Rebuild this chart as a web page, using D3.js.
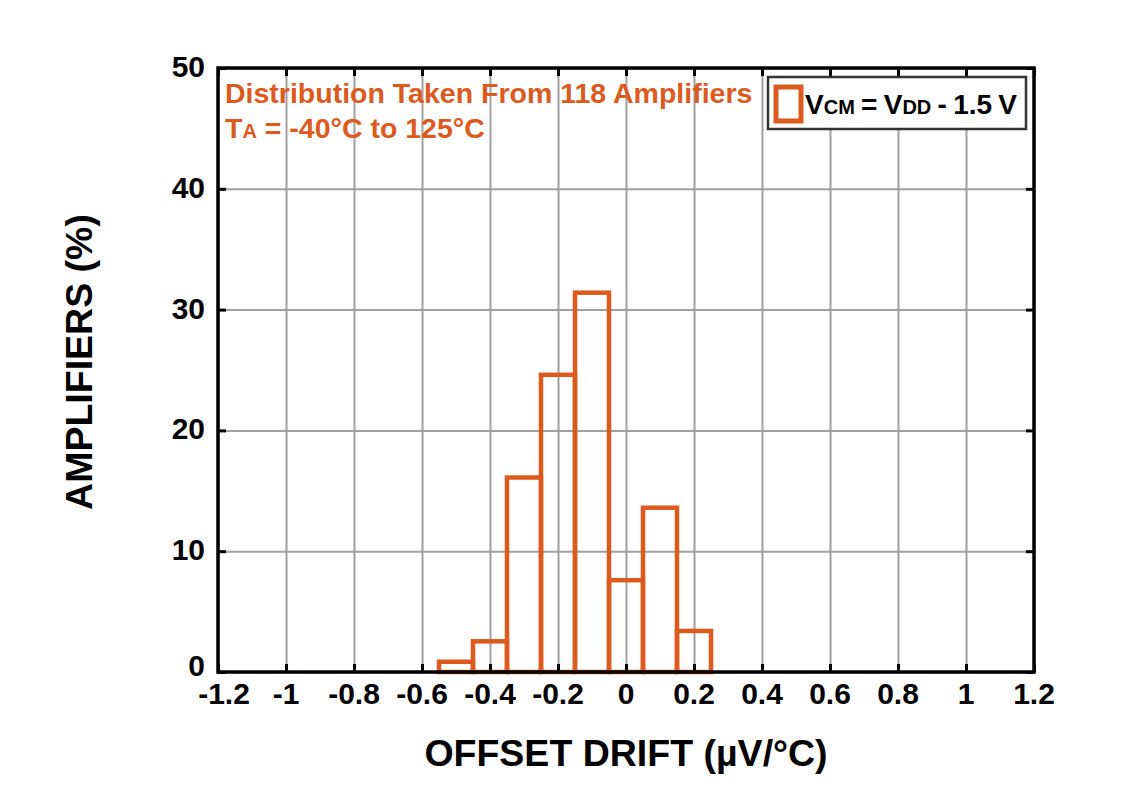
<!DOCTYPE html>
<html>
<head>
<meta charset="utf-8">
<script src="https://cdn.jsdelivr.net/npm/d3@7"></script>
<style>
  body { margin: 0; background: #fff; }
  text { font-family: "Liberation Sans", Arial, sans-serif; font-weight: bold; }
</style>
</head>
<body>
<div id="chart"></div>
<script>
const width = 1123;
const height = 803;
const margin = {top: 68, right: 89, bottom: 131, left: 218};

// histogram bins (centre of each 0.1 µV/°C bin) and share of amplifiers in %
const binCenters = [-0.5, -0.4, -0.3, -0.2, -0.1, 0, 0.1, 0.2];
const percents = [0.85, 2.54, 16.1, 24.6, 31.4, 7.6, 13.6, 3.4];
const binWidth = 0.1;

const xTicks = [-1.2, -1, -0.8, -0.6, -0.4, -0.2, 0, 0.2, 0.4, 0.6, 0.8, 1, 1.2];
const yTicks = [0, 10, 20, 30, 40, 50];

const orange = "#dc5a1e";

const svg = d3.select("#chart").append("svg")
  .attr("width", width)
  .attr("height", height);

const x = d3.scaleLinear()
  .domain([-1.2, 1.2])
  .range([margin.left, width - margin.right]);

const y = d3.scaleLinear()
  .domain([0, 50])
  .range([height - margin.bottom, margin.top]);

// ------- grid --------//
svg.append("g")
  .attr("transform", `translate(0,${height - margin.bottom})`)
  .call(d3.axisBottom(x).tickValues(xTicks).tickSize(-(y(0) - y(50))).tickFormat(""))
  .call(g => g.select(".domain").remove())
  .call(g => g.selectAll("line").attr("stroke", "#a0a0a0").attr("stroke-width", 2));

svg.append("g")
  .attr("transform", `translate(${margin.left},0)`)
  .call(d3.axisLeft(y).tickValues(yTicks).tickSize(-(x(1.2) - x(-1.2))).tickFormat(""))
  .call(g => g.select(".domain").remove())
  .call(g => g.selectAll("line").attr("stroke", "#a0a0a0").attr("stroke-width", 2));

// ------- bars --------//
svg.append("g")
  .selectAll("rect")
  .data(binCenters)
  .join("rect")
    .attr("x", d => x(d - binWidth / 2))
    .attr("width", d => x(d + binWidth / 2) - x(d - binWidth / 2))
    .attr("y", (d, i) => y(percents[i]))
    .attr("height", (d, i) => y(0) - y(percents[i]))
    .attr("fill", "none")
    .attr("stroke", orange)
    .attr("stroke-width", 4.5);

// ------- ticks (inside, all four sides) --------//
const tickLen = 8;
const axisStyle = g => {
  g.select(".domain").remove();
  g.selectAll("line").attr("stroke", "#000").attr("stroke-width", 3);
};
svg.append("g")
  .attr("transform", `translate(0,${y(0)})`)
  .call(d3.axisBottom(x).tickValues(xTicks).tickSize(-tickLen).tickFormat(""))
  .call(axisStyle);
svg.append("g")
  .attr("transform", `translate(0,${y(50)})`)
  .call(d3.axisTop(x).tickValues(xTicks).tickSize(-tickLen).tickFormat(""))
  .call(axisStyle);
svg.append("g")
  .attr("transform", `translate(${x(-1.2)},0)`)
  .call(d3.axisLeft(y).tickValues(yTicks).tickSize(-tickLen).tickFormat(""))
  .call(axisStyle);
svg.append("g")
  .attr("transform", `translate(${x(1.2)},0)`)
  .call(d3.axisRight(y).tickValues(yTicks).tickSize(-tickLen).tickFormat(""))
  .call(axisStyle);

// frame
svg.append("rect")
  .attr("x", x(-1.2)).attr("y", y(50))
  .attr("width", x(1.2) - x(-1.2)).attr("height", y(0) - y(50))
  .attr("fill", "none").attr("stroke", "#000").attr("stroke-width", 3.5);

// ------- tick labels --------//
svg.append("g")
  .selectAll("text")
  .data(xTicks)
  .join("text")
    .attr("x", (d, i) => x(d) + (i === 0 ? 6 : 0))
    .attr("y", y(0) + 32)
    .attr("text-anchor", "middle")
    .attr("font-size", 30)
    .text(d => d);

svg.append("g")
  .selectAll("text")
  .data(yTicks)
  .join("text")
    .attr("x", x(-1.2) - 13)
    .attr("y", d => y(d) + (d === 0 ? 3.5 : 9))
    .attr("text-anchor", "end")
    .attr("font-size", 30)
    .text(d => d);

// ------- axis titles --------//
svg.append("text")
  .attr("x", (x(-1.2) + x(1.2)) / 2)
  .attr("y", 766)
  .attr("text-anchor", "middle")
  .attr("font-size", 37.5)
  .text("OFFSET DRIFT (µV/°C)");

svg.append("text")
  .attr("transform", `translate(92,362) rotate(-90)`)
  .attr("text-anchor", "middle")
  .attr("font-size", 37.5)
  .text("AMPLIFIERS (%)");

// ------- annotation --------//
svg.append("text")
  .attr("x", 225).attr("y", 103)
  .attr("font-size", 28.5)
  .attr("fill", orange)
  .text("Distribution Taken From 118 Amplifiers");

const t2 = svg.append("text")
  .attr("x", 225).attr("y", 138)
  .attr("font-size", 28.5)
  .attr("fill", orange);
t2.append("tspan").text("T");
t2.append("tspan").attr("font-size", 20).text("A");
t2.append("tspan").text(" = -40°C to 125°C");

// ------- legend --------//
const lg = svg.append("g");
lg.append("rect")
  .attr("x", 768).attr("y", 77)
  .attr("width", 258).attr("height", 52)
  .attr("fill", "#fff").attr("stroke", "#333").attr("stroke-width", 2.5);
lg.append("rect")
  .attr("x", 776).attr("y", 87)
  .attr("width", 25).attr("height", 34)
  .attr("fill", "none").attr("stroke", orange).attr("stroke-width", 5);
const lt = lg.append("text")
  .attr("x", 805).attr("y", 114)
  .attr("font-size", 28)
  .attr("word-spacing", -1.5)
  .attr("fill", "#000");
lt.append("tspan").text("V");
lt.append("tspan").attr("font-size", 20).text("CM");
lt.append("tspan").text(" = V");
lt.append("tspan").attr("font-size", 20).text("DD");
lt.append("tspan").text(" - 1.5 V");
</script>
</body>
</html>
